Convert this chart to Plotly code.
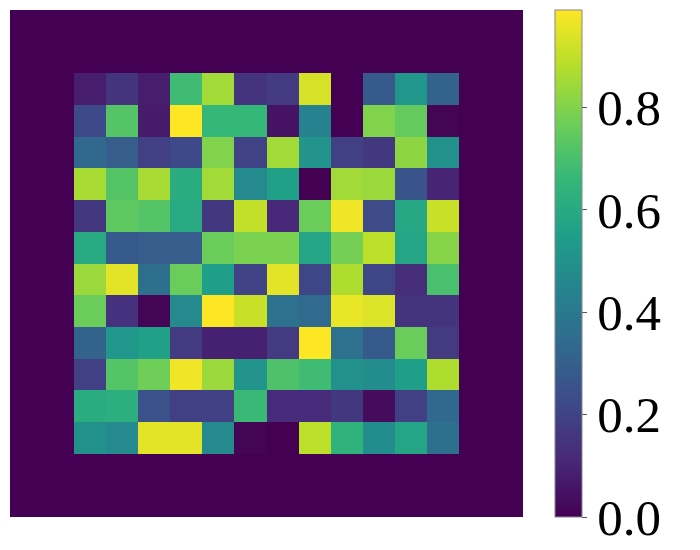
import numpy as np
import plotly.graph_objects as go

# Inner 12x12 values (top row first); the outer 2-cell frame is zeros
inner_values = [
    [0.08, 0.15, 0.08, 0.68, 0.85, 0.15, 0.17, 0.93, 0.00, 0.28, 0.52, 0.31],
    [0.22, 0.72, 0.07, 0.99, 0.66, 0.66, 0.05, 0.44, 0.00, 0.80, 0.75, 0.01],
    [0.33, 0.29, 0.19, 0.22, 0.80, 0.20, 0.85, 0.51, 0.19, 0.16, 0.82, 0.50],
    [0.86, 0.72, 0.86, 0.61, 0.85, 0.47, 0.56, 0.00, 0.85, 0.84, 0.26, 0.10],
    [0.16, 0.74, 0.72, 0.60, 0.16, 0.90, 0.11, 0.76, 0.97, 0.23, 0.59, 0.91],
    [0.60, 0.28, 0.29, 0.29, 0.76, 0.79, 0.79, 0.58, 0.78, 0.89, 0.58, 0.81],
    [0.84, 0.95, 0.36, 0.76, 0.55, 0.20, 0.95, 0.21, 0.87, 0.21, 0.13, 0.70],
    [0.76, 0.14, 0.01, 0.47, 0.99, 0.91, 0.37, 0.34, 0.96, 0.94, 0.15, 0.15],
    [0.31, 0.52, 0.56, 0.17, 0.09, 0.09, 0.17, 0.99, 0.37, 0.28, 0.76, 0.17],
    [0.19, 0.72, 0.77, 0.97, 0.84, 0.51, 0.71, 0.68, 0.50, 0.48, 0.55, 0.87],
    [0.61, 0.62, 0.25, 0.19, 0.19, 0.67, 0.12, 0.12, 0.16, 0.03, 0.19, 0.33],
    [0.50, 0.47, 0.95, 0.95, 0.47, 0.01, 0.00, 0.89, 0.64, 0.48, 0.58, 0.36],
]
frame_width = 2
z = np.pad(np.array(inner_values), frame_width, constant_values=0.0)

cbar_tickvals = [0.0, 0.2, 0.4, 0.6, 0.8]
cbar_ticktext = ["0.0", "0.2", "0.4", "0.6", "0.8"]
z_min, z_max = 0.0, 0.99

fig = go.Figure(
    go.Heatmap(
        z=z,
        colorscale="Viridis",
        zmin=z_min,
        zmax=z_max,
        xgap=0,
        ygap=0,
        colorbar=dict(
            x=1.062,
            xanchor="left",
            xpad=0,
            y=0.5,
            yanchor="middle",
            ypad=0,
            len=1.0,
            lenmode="fraction",
            thickness=27,
            thicknessmode="pixels",
            outlinewidth=1,
            outlinecolor="#888888",
            ticks="outside",
            ticklen=5,
            tickwidth=1,
            tickcolor="#555555",
            tickvals=cbar_tickvals,
            ticktext=cbar_ticktext,
            ticklabeloverflow="allow",
            tickfont=dict(family="Liberation Serif", size=51, color="black"),
        ),
    )
)

n = z.shape[0]
fig.update_xaxes(range=[-0.5, n - 0.5], visible=False, showgrid=False, zeroline=False)
fig.update_yaxes(range=[n - 0.5, -0.5], visible=False, showgrid=False, zeroline=False)
# The page body has an 8px default margin, so the figure is sized to fit inside it
fig.update_layout(
    width=684,
    height=534,
    margin=dict(l=2, r=169, t=2, b=25, autoexpand=False),
    paper_bgcolor="white",
    plot_bgcolor="white",
)

fig.write_html("out.html")
